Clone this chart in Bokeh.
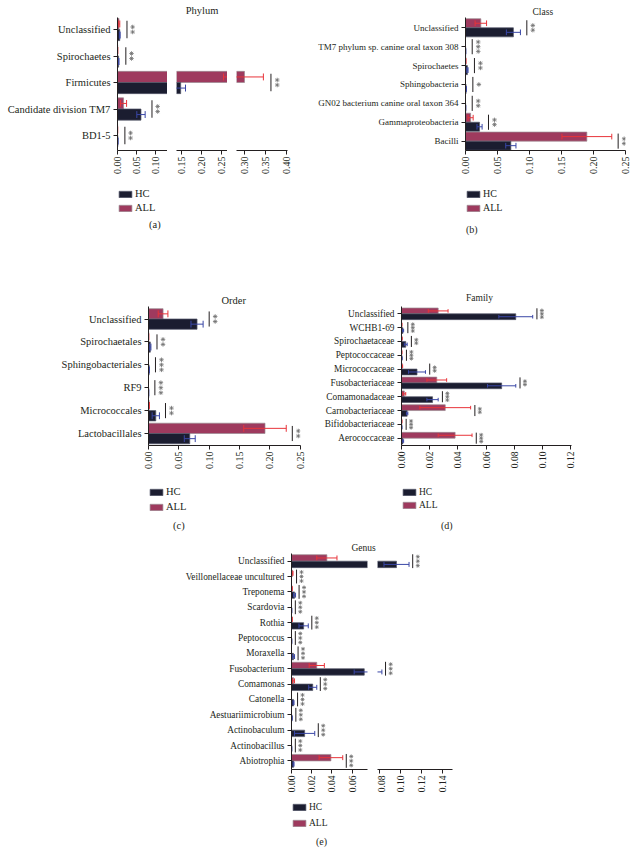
import math
from bokeh.plotting import figure
from bokeh.models import (ColumnDataSource, Range1d, FixedTicker, PrintfTickFormatter,
                          Legend, LegendItem, Spacer, Div, CDSView, IndexFilter)
from bokeh.layouts import row, column
from bokeh.embed import file_html
from bokeh.resources import INLINE

# ---------------- data (relative abundance, mean and error) ----------------
phylum_cats = ["Unclassified", "Spirochaetes", "Firmicutes", "Candidate division TM7", "BD1-5"]
phylum_hc = [0.006, 0.003, 0.148, 0.062, 0.001]
phylum_hc_err = [0.001, 0.001, 0.012, 0.011, 0.0005]
phylum_all = [0.004, 0.0005, 0.300, 0.016, 0.0003]
phylum_all_err = [0.002, 0.0003, 0.045, 0.008, 0.0002]
phylum_sig = ["**", "**", "**", "**", "**"]
phylum_ticks = [[0.00, 0.05, 0.10], [0.15, 0.20, 0.25], [0.30, 0.35, 0.40]]

class_cats = ["Unclassified", "TM7 phylum sp. canine oral taxon 308", "Spirochaetes",
              "Sphingobacteria", "GN02 bacterium canine oral taxon 364",
              "Gammaproteobacteria", "Bacilli"]
class_hc = [0.075, 0.0003, 0.003, 0.001, 0.0003, 0.022, 0.071]
class_hc_err = [0.011, 0.0002, 0.001, 0.0005, 0.0002, 0.004, 0.008]
class_all = [0.024, 0.0, 0.0005, 0.0, 0.0, 0.008, 0.190]
class_all_err = [0.009, 0.0, 0.0003, 0.0, 0.0, 0.004, 0.039]
class_sig = ["**", "***", "**", "*", "**", "**", "**"]
class_ticks = [0.00, 0.05, 0.10, 0.15, 0.20, 0.25]

order_cats = ["Unclassified", "Spirochaetales", "Sphingobacteriales", "RF9",
              "Micrococcales", "Lactobacillales"]
order_hc = [0.080, 0.003, 0.001, 0.0003, 0.012, 0.068]
order_hc_err = [0.010, 0.001, 0.0005, 0.0002, 0.006, 0.009]
order_all = [0.024, 0.0003, 0.0, 0.0, 0.001, 0.192]
order_all_err = [0.008, 0.0002, 0.0, 0.0, 0.0005, 0.035]
order_sig = ["**", "**", "***", "***", "**", "**"]
order_ticks = [0.00, 0.05, 0.10, 0.15, 0.20, 0.25]

family_cats = ["Unclassified", "WCHB1-69", "Spirochaetaceae", "Peptococcaceae",
               "Micrococcaceae", "Fusobacteriaceae", "Comamonadaceae",
               "Carnobacteriaceae", "Bifidobacteriaceae", "Aerococcaceae"]
family_hc = [0.081, 0.001, 0.003, 0.0003, 0.011, 0.071, 0.022, 0.004, 0.0002, 0.001]
family_hc_err = [0.012, 0.0005, 0.001, 0.0002, 0.006, 0.010, 0.004, 0.0005, 0.0001, 0.0005]
family_all = [0.026, 0.0002, 0.0003, 0.0002, 0.0005, 0.025, 0.002, 0.031, 0.0002, 0.038]
family_all_err = [0.007, 0.0001, 0.0002, 0.0001, 0.0003, 0.007, 0.001, 0.018, 0.0001, 0.012]
family_sig = ["***", "***", "**", "***", "**", "**", "***", "**", "***", "***"]
family_ticks = [0.00, 0.02, 0.04, 0.06, 0.08, 0.10, 0.12]

genus_cats = ["Unclassified", "Veillonellaceae uncultured", "Treponema", "Scardovia",
              "Rothia", "Peptococcus", "Moraxella", "Fusobacterium", "Comamonas",
              "Catonella", "Aestuariimicrobium", "Actinobaculum", "Actinobacillus",
              "Abiotrophia"]
genus_hc = [0.096, 0.0, 0.003, 0.0002, 0.012, 0.0002, 0.002, 0.072, 0.021, 0.002,
            0.0005, 0.013, 0.0002, 0.002]
genus_hc_err = [0.012, 0.0, 0.001, 0.0001, 0.0046, 0.0001, 0.001, 0.010, 0.004, 0.0005,
                0.0003, 0.010, 0.0001, 0.0005]
genus_all = [0.035, 0.001, 0.0005, 0.0, 0.0005, 0.0, 0.0, 0.025, 0.002, 0.0,
             0.0, 0.0, 0.0, 0.039]
genus_all_err = [0.010, 0.0005, 0.0003, 0.0, 0.0003, 0.0, 0.0, 0.0075, 0.001, 0.0,
                 0.0, 0.0, 0.0, 0.0117]
genus_sig = ["***"] * 14
genus_ticks = [[0.00, 0.02, 0.04, 0.06], [0.08, 0.10, 0.12, 0.14]]

# ---------------- styles ----------------
FONT = "Liberation Serif"
TXT = "#231f20"
HC_FILL, HC_LINE, HC_ERR = "#1b1d30", "#55586a", "#3a47a6"
AL_FILL, AL_LINE, AL_ERR = "#9e3a5e", "#9a8a90", "#e8343a"
STAR = "#707070"


def panel_sources(cats, hc, hc_err, al, al_err, sig, gap, bh, sig_half, cap, star_dx, star_dy):
    n = len(cats)
    ys = [n - 1 - i for i in range(n)]
    bars = ColumnDataSource(dict(y_all=[y + bh / 2 for y in ys],
                                 y_hc=[y - bh / 2 for y in ys], hc=hc, al=al))

    def err_src(vals, errs, off):
        keep = [i for i in range(n) if errs[i] > 0]
        yy = [ys[i] + off for i in keep]
        lo = [vals[i] - errs[i] for i in keep]
        hi = [vals[i] + errs[i] for i in keep]
        return ColumnDataSource(dict(y=yy, yc0=[v - cap for v in yy],
                                     yc1=[v + cap for v in yy], lo=lo, hi=hi)), lo, hi

    sx = [max(hc[i] + hc_err[i], al[i] + al_err[i]) + gap for i in range(n)]
    sig_src = ColumnDataSource(dict(x=sx, y0=[y - sig_half for y in ys],
                                    y1=[y + sig_half for y in ys]))
    st_x, st_y = [], []
    for i in range(n):
        k = len(sig[i])
        for j in range(k):
            st_x.append(sx[i] + star_dx)
            st_y.append(ys[i] + (j - (k - 1) / 2) * star_dy)
    star_src = ColumnDataSource(dict(x=st_x, y=st_y))
    e_hc, hlo, hhi = err_src(hc, hc_err, -bh / 2)
    e_al, alo, ahi = err_src(al, al_err, bh / 2)
    return dict(ys=ys, cats=cats, bars=bars, hc=hc, al=al,
                err_hc=(e_hc, hlo, hhi), err_all=(e_al, alo, ahi),
                sig=sig_src, sx=sx, stars=star_src, stx=st_x, bh=bh)


def view_of(lo, hi, xr):
    """Rows of a source that reach into the x range of one axis piece."""
    return CDSView(filter=IndexFilter([i for i in range(len(hi))
                                       if hi[i] >= xr[0] and lo[i] <= xr[1]]))


def make_fig(w, h, mbl, mbr, mbt, mbb, xr, yr, show_y=True):
    p = figure(width=w, height=h, x_range=Range1d(*xr), y_range=Range1d(*yr),
               output_backend="svg", toolbar_location=None,
               y_axis_location="left" if show_y else None,
               min_border_left=mbl, min_border_right=mbr,
               min_border_top=mbt, min_border_bottom=mbb)
    p.outline_line_color = None
    p.xgrid.visible = False
    p.ygrid.visible = False
    p.background_fill_color = "white"
    p.border_fill_color = "white"
    return p


def style_axes(p, D, xticks, xfs, yfs, show_y):
    ax = p.xaxis[0]
    ax.ticker = FixedTicker(ticks=xticks)
    ax.formatter = PrintfTickFormatter(format="%.2f")
    ax.major_label_orientation = math.pi / 2
    ax.major_label_text_font = FONT
    ax.major_label_text_font_size = xfs
    ax.major_label_text_color = TXT
    ax.major_label_standoff = 2
    ax.major_tick_in = 0
    ax.major_tick_out = 4
    ax.minor_tick_line_color = None
    ax.axis_line_color = TXT
    ax.major_tick_line_color = TXT
    if not show_y:
        return
    ay = p.yaxis[0]
    ay.ticker = FixedTicker(ticks=D["ys"])
    ay.major_label_overrides = {y: c for y, c in zip(D["ys"], D["cats"])}
    ay.major_label_text_font = FONT
    ay.major_label_text_font_size = yfs
    ay.major_label_text_color = TXT
    ay.major_label_standoff = 3
    ay.major_tick_in = 0
    ay.major_tick_out = 4
    ay.minor_tick_line_color = None
    ay.axis_line_color = TXT
    ay.major_tick_line_color = TXT


def draw(p, D, xr, star_size):
    bh = D["bh"]
    zeros = [0.0] * len(D["hc"])
    p.hbar(y="y_all", left=0, right="al", height=bh, source=D["bars"],
           view=view_of(zeros, D["al"], xr),
           fill_color=AL_FILL, line_color=AL_LINE, line_width=0.7)
    p.hbar(y="y_hc", left=0, right="hc", height=bh, source=D["bars"],
           view=view_of(zeros, D["hc"], xr),
           fill_color=HC_FILL, line_color=HC_LINE, line_width=0.7)
    for (src, lo, hi), col in ((D["err_all"], AL_ERR), (D["err_hc"], HC_ERR)):
        p.segment(x0="lo", y0="y", x1="hi", y1="y", source=src, view=view_of(lo, hi, xr),
                  line_color=col, line_width=1)
        for fld, vals in (("lo", lo), ("hi", hi)):
            p.segment(x0=fld, y0="yc0", x1=fld, y1="yc1", source=src,
                      view=view_of(vals, vals, xr), line_color=col, line_width=1)
    p.segment(x0="x", y0="y0", x1="x", y1="y1", source=D["sig"],
              view=view_of(D["sx"], D["sx"], xr), line_color=TXT, line_width=1)
    p.scatter(x="x", y="y", source=D["stars"], view=view_of(D["stx"], D["stx"], xr),
              marker="asterisk", size=star_size, line_color=STAR, line_width=0.8)


def set_title(p, text, fs, align, offset, standoff):
    p.title.text = text
    p.title.align = align
    p.title.offset = offset
    p.title.standoff = standoff
    p.title.text_font = FONT
    p.title.text_font_size = fs
    p.title.text_font_style = "normal"
    p.title.text_color = TXT


def legend_fig(D, w, h, mbl, mbt, fs, sp):
    # the legend glyphs reuse the panel's bar data; the ranges keep the bars out of view
    lf = figure(width=w, height=h, x_range=Range1d(-2, -1), y_range=Range1d(-2, -1),
                output_backend="svg", toolbar_location=None, title=None,
                min_border_left=mbl, min_border_right=0,
                min_border_top=mbt, min_border_bottom=0)
    lf.xaxis.visible = False
    lf.yaxis.visible = False
    lf.xgrid.visible = False
    lf.ygrid.visible = False
    lf.outline_line_color = None
    r_hc = lf.hbar(y="y_hc", left=0, right="hc", height=D["bh"], source=D["bars"],
                   fill_color=HC_FILL, line_color=HC_LINE, line_width=0.7)
    r_all = lf.hbar(y="y_all", left=0, right="al", height=D["bh"], source=D["bars"],
                    fill_color=AL_FILL, line_color=AL_LINE, line_width=0.7)
    leg = Legend(items=[LegendItem(label="HC", renderers=[r_hc]),
                        LegendItem(label="ALL", renderers=[r_all])],
                 location="top_left", margin=0, padding=0, spacing=sp,
                 glyph_width=16, glyph_height=8, label_height=11, label_standoff=2,
                 label_text_font=FONT, label_text_font_size=fs, label_text_color=TXT,
                 border_line_color=None, background_fill_alpha=0)
    lf.add_layout(leg)
    return lf


def caption(text, w, h, pad_left, pad_top, fs):
    html = ('<div style="padding-left:%dpx;padding-top:%dpx;font-family:\'%s\';'
            'font-size:%s;line-height:12px;color:%s;white-space:nowrap">%s</div>'
            % (pad_left, pad_top, FONT, fs, TXT, text))
    return Div(text=html, width=w, height=h, margin=0)


# ---------------- (a) Phylum : broken axis in three pieces ----------------
Da = panel_sources(phylum_cats, phylum_hc, phylum_hc_err, phylum_all, phylum_all_err,
                   phylum_sig, 0.018, 0.42, 0.33, 0.13, 0.015, 0.19)
ya = (-0.566, 4.453)
xa = [(0.0, 0.132), (0.1375, 0.265), (0.281, 0.4024)]
a1 = make_fig(167, 184, 117, 0, 17, 34, xa[0], ya)
a2 = make_fig(60, 184, 9, 0, 17, 34, xa[1], ya, show_y=False)
a3 = make_fig(65, 184, 9, 5, 17, 34, xa[2], ya, show_y=False)
for p, t, xr, sy in ((a1, phylum_ticks[0], xa[0], True), (a2, phylum_ticks[1], xa[1], False),
                     (a3, phylum_ticks[2], xa[2], False)):
    style_axes(p, Da, t, "10px", "10.5px", sy)
    draw(p, Da, xr, 4.5)
set_title(a2, "Phylum", "10.5px", "center", 0, 3)
la = legend_fig(Da, 292, 32, 117, 1, "10.5px", 3)

# ---------------- (b) Class ----------------
Db = panel_sources(class_cats, class_hc, class_hc_err, class_all, class_all_err,
                   class_sig, 0.010, 0.48, 0.4, 0.15, 0.0094, 0.25)
xb = (0.0, 0.2505)
b = make_fig(338, 184, 173, 5, 12, 30, xb, (-0.496, 6.545))
style_axes(b, Db, class_ticks, "10px", "9px", True)
draw(b, Db, xb, 4.5)
set_title(b, "Class", "9.5px", "left", 67, 1)
lb = legend_fig(Db, 338, 32, 173, 4, "10px", 3)

# ---------------- (c) Order ----------------
Dc = panel_sources(order_cats, order_hc, order_hc_err, order_all, order_all_err,
                   order_sig, 0.010, 0.45, 0.33, 0.15, 0.0099, 0.22)
xc = (0.0, 0.2505)
c = make_fig(310, 244, 148, 10, 68, 37, xc, (-0.524, 5.546))
style_axes(c, Dc, order_ticks, "10px", "10.5px", True)
draw(c, Dc, xc, 4.5)
set_title(c, "Order", "10.5px", "left", 73, 1)
lc = legend_fig(Dc, 310, 32, 148, 1, "10.5px", 4)

# ---------------- (d) Family ----------------
Dd = panel_sources(family_cats, family_hc, family_hc_err, family_all, family_all_err,
                   family_sig, 0.003, 0.42, 0.4, 0.13, 0.0035, 0.24)
xd = (0.0, 0.1205)
d = make_fig(320, 244, 91, 59, 24, 30, xd, (-0.53, 9.53))
style_axes(d, Dd, family_ticks, "9.5px", "9.3px", True)
draw(d, Dd, xd, 4)
set_title(d, "Family", "9.5px", "left", 64.5, 7)
ld = legend_fig(Dd, 320, 32, 91, 4, "9.5px", 2)

# ---------------- (e) Genus : broken axis in two pieces ----------------
De = panel_sources(genus_cats, genus_hc, genus_hc_err, genus_all, genus_all_err,
                   genus_sig, 0.0035, 0.42, 0.45, 0.16, 0.0049, 0.29)
ye = (-0.56, 13.5)
xe = [(0.0, 0.0752), (0.0778, 0.1496)]
e1 = make_fig(216, 266, 130, 10, 20, 30, xe[0], ye)
e2 = make_fig(253, 266, 0, 178, 20, 30, xe[1], ye, show_y=False)
for p, t, xr, sy in ((e1, genus_ticks[0], xe[0], True), (e2, genus_ticks[1], xe[1], False)):
    style_axes(p, De, t, "9.5px", "9.3px", sy)
    draw(p, De, xr, 4)
set_title(e1, "Genus", "9.5px", "left", 60, 2)
le = legend_fig(De, 469, 32, 130, 2, "9.5px", 5)

layout = column(
    row(a1, a2, a3, b),
    row(la, lb),
    row(caption("(a)", 292, 22, 149, 1, "10.5px"), caption("(b)", 338, 22, 174, 8, "10px")),
    row(c, d),
    row(lc, ld),
    row(caption("(c)", 310, 19, 173, 6, "10.5px"), caption("(d)", 320, 19, 131, 6, "10px")),
    row(Spacer(width=161, height=266), e1, e2),
    row(Spacer(width=161, height=32), le),
    row(caption("(e)", 630, 17, 316, 5, "10px")),
)

open("out.html", "w").write(file_html(layout, INLINE))
